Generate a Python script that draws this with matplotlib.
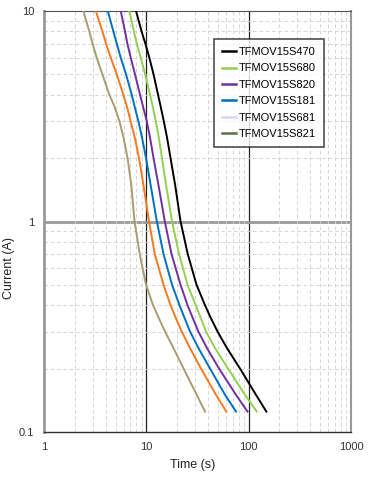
import numpy as np
import matplotlib
matplotlib.use("Agg")
import matplotlib.pyplot as plt
from matplotlib.lines import Line2D
from matplotlib.ticker import LogLocator, NullFormatter, FixedLocator, FixedFormatter

plt.rcParams['font.family'] = ['Liberation Sans', 'DejaVu Sans']

# current levels (A) where each curve was read
current = [10, 8, 7, 6, 5, 4, 3.5, 3, 2.5, 2, 1.5, 1, 0.7, 0.5, 0.4, 0.35, 0.3, 0.25, 0.2, 0.15, 0.125]

# time (s) for each part at the current levels above
t_s470 = [7.93, 8.98, 9.78, 10.70, 11.76, 13.01, 13.83, 14.80, 15.94, 17.24, 19.08, 21.6, 25.39, 30.95,
          37.48, 42.43, 49.66, 61.5, 82.4, 118.1, 148.9]
t_s680 = [6.82, 7.55, 8.07, 8.80, 9.75, 10.87, 11.57, 12.36, 13.25, 14.21, 15.55, 17.83, 20.87, 25.27,
          30.40, 33.87, 38.33, 46.95, 62.9, 92.2, 120.0]
t_s820 = [5.62, 6.19, 6.52, 7.04, 7.75, 8.68, 9.30, 10.09, 10.87, 11.76, 13.10, 15.16, 17.63, 21.60,
          25.27, 28.29, 32.24, 39.21, 51.4, 75.3, 97.5]
t_s181 = [4.20, 4.76, 5.14, 5.62, 6.33, 7.20, 7.70, 8.35, 9.08, 9.93, 10.99, 12.67, 14.73, 17.83,
          21.11, 23.52, 26.74, 32.38, 41.95, 58.8, 75.3]
t_s681 = [3.21, 3.72, 4.04, 4.49, 5.14, 5.96, 6.48, 7.01, 7.72, 8.48, 9.35, 10.63, 12.08, 14.73,
          17.24, 19.30, 22.18, 26.74, 34.25, 48.0, 60.5]
t_s821 = [2.42, 2.77, 2.98, 3.27, 3.72, 4.35, 4.90, 5.45, 5.99, 6.55, 7.12, 7.67, 8.62, 9.93,
          11.63, 13.16, 15.23, 18.45, 23.10, 31.10, 37.48]

labels = ["TFMOV15S470", "TFMOV15S680", "TFMOV15S820", "TFMOV15S181", "TFMOV15S681", "TFMOV15S821"]
curve_colors = ["#000000", "#92d050", "#7030a0", "#0070c0", "#f47a20", "#a89c70"]
legend_colors = ["#000000", "#92d050", "#7030a0", "#0070c0", "#ddd5f0", "#5f6e4e"]

fig = plt.figure(figsize=(3.7, 4.78), dpi=100)
ax = fig.add_axes([0.119, 0.0962, 0.8296, 0.8808])

for t, c in zip([t_s470, t_s680, t_s820, t_s181, t_s681, t_s821], curve_colors):
    ax.plot(t, current, color=c, lw=1.4, zorder=3, solid_joinstyle="round")

ax.set_xscale("log")
ax.set_yscale("log")
ax.set_xlim(1, 1000)
ax.set_ylim(0.1, 10)

ax.xaxis.set_major_locator(FixedLocator([1, 10, 100, 1000]))
ax.xaxis.set_major_formatter(FixedFormatter(["1", "10", "100", "1000"]))
ax.yaxis.set_major_locator(FixedLocator([0.1, 1, 10]))
ax.yaxis.set_major_formatter(FixedFormatter(["0.1", "1", "10"]))
ax.xaxis.set_minor_locator(LogLocator(base=10, subs=np.arange(2, 10)))
ax.yaxis.set_minor_locator(LogLocator(base=10, subs=np.arange(2, 10)))
ax.xaxis.set_minor_formatter(NullFormatter())
ax.yaxis.set_minor_formatter(NullFormatter())
ax.tick_params(which="both", length=0, labelsize=8, labelcolor="#333333", pad=7)

ax.grid(which="minor", color="#d2d2d2", ls=(0, (4, 3)), lw=0.65, zorder=0)
for xv in [10, 100]:
    ax.axvline(xv, color="#222222", lw=0.9, zorder=1)
ax.axhline(1, color="#999999", lw=2, zorder=1)

ax.spines["left"].set_color("#999999")
ax.spines["left"].set_linewidth(2)
ax.spines["right"].set_color("#999999")
ax.spines["right"].set_linewidth(1.5)
ax.spines["bottom"].set_color("#333333")
ax.spines["bottom"].set_linewidth(1)
ax.spines["top"].set_color("#555555")
ax.spines["top"].set_linewidth(0.8)

ax.set_xlabel("Time (s)", fontsize=9, color="#222222")
ax.set_ylabel("Current (A)", fontsize=9, color="#222222")
ax.xaxis.set_label_coords(0.485, -0.064)
ax.yaxis.set_label_coords(-0.095, 0.39)

handles = [Line2D([0], [0], color=c, lw=1.8) for c in legend_colors]
leg = ax.legend(handles, labels, loc="upper right", bbox_to_anchor=(0.912, 0.933),
                fontsize=8, frameon=True, fancybox=False, handlelength=1.3,
                handletextpad=0.25, labelspacing=0.58, borderpad=0.7, borderaxespad=0)
leg.get_frame().set_edgecolor("#222222")
leg.get_frame().set_linewidth(1.2)

fig.savefig("out.png", dpi=100)
